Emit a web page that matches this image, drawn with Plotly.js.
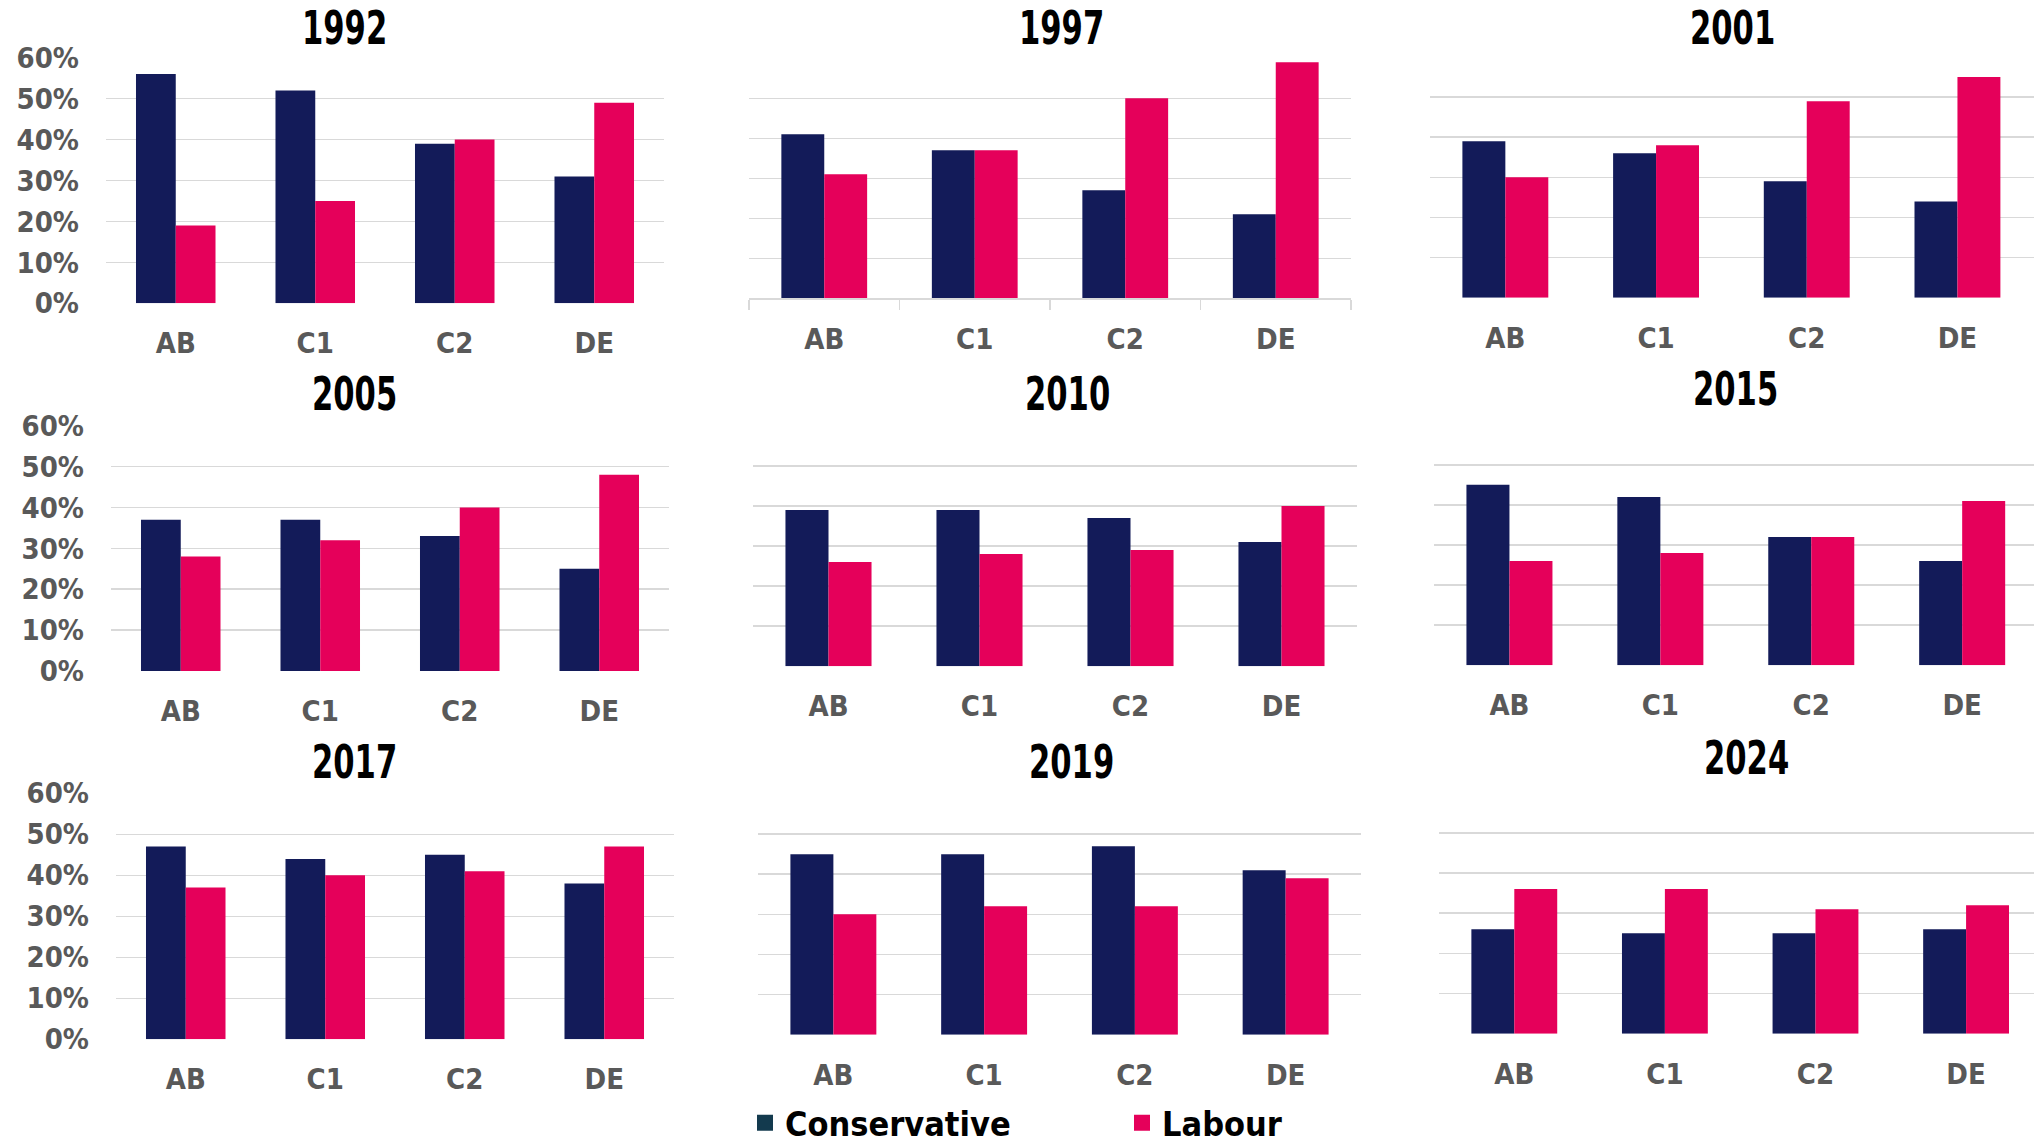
<!DOCTYPE html>
<html>
<head>
<meta charset="utf-8">
<script src="https://cdn.plot.ly/plotly-3.0.1.min.js"></script>
<style>
html, body { margin: 0; padding: 0; background: #ffffff; overflow: hidden; }
#chart { width: 2034px; height: 1143px; }
#chart .annotation-text {
  transform-box: fill-box;
  transform-origin: center;
  transform: scaleX(0.74);
}
</style>
</head>
<body>
<div id="chart"></div>
<script>
// ---- Data ----
const categories = ['AB', 'C1', 'C2', 'DE'];
const years = ['1992', '1997', '2001', '2005', '2010', '2015', '2017', '2019', '2024'];
const seriesNames = ['Conservative', 'Labour'];

const con1992 = [56, 52, 39, 31];
const lab1992 = [19, 25, 40, 49];
const con1997 = [41, 37, 27, 21];
const lab1997 = [31, 37, 50, 59];
const con2001 = [39, 36, 29, 24];
const lab2001 = [30, 38, 49, 55];
const con2005 = [37, 37, 33, 25];
const lab2005 = [28, 32, 40, 48];
const con2010 = [39, 39, 37, 31];
const lab2010 = [26, 28, 29, 40];
const con2015 = [45, 42, 32, 26];
const lab2015 = [26, 28, 32, 41];
const con2017 = [47, 44, 45, 38];
const lab2017 = [37, 40, 41, 47];
const con2019 = [45, 45, 47, 41];
const lab2019 = [30, 32, 32, 39];
const con2024 = [26, 25, 25, 26];
const lab2024 = [36, 36, 31, 32];

const conservativeByYear = [con1992, con1997, con2001, con2005, con2010, con2015, con2017, con2019, con2024];
const labourByYear = [lab1992, lab1997, lab2001, lab2005, lab2010, lab2015, lab2017, lab2019, lab2024];

// ---- Layout geometry (pixels) ----
const W = 2034, H = 1143;
const FONT = '"DejaVu Sans Condensed", "Liberation Sans Narrow", sans-serif';
const conColor = '#131b59';
const labColor = '#e5005a';
const conLegendColor = '#133a4e';
const gridColor = '#d9d9d9';
const tickColor = '#595959';

// plot area [left, right], [y of 60%, y of 0%], category range end, title centre
const panels = [
  {x: [106, 664],  y: [57.7, 303.3],  r: 3.5,   tx: 344,  ty: 28},
  {x: [749, 1351], y: [58.3, 298.3],  r: 3.5,   tx: 1061, ty: 28, axisLine: true},
  {x: [1430, 2034], y: [57, 297.7],   r: 3.508, tx: 1732, ty: 28},
  {x: [111, 669],  y: [425.7, 671],   r: 3.5,   tx: 354,  ty: 394},
  {x: [753, 1357], y: [425.7, 666.3], r: 3.5,   tx: 1067, ty: 394},
  {x: [1434, 2034], y: [424.7, 665.3], r: 3.476, tx: 1735, ty: 389},
  {x: [116, 674],  y: [793.3, 1039.3], r: 3.5,  tx: 354,  ty: 762},
  {x: [758, 1361], y: [794, 1034.7],  r: 3.5,   tx: 1071, ty: 762},
  {x: [1439, 2034], y: [792.7, 1033.7], r: 3.451, tx: 1746, ty: 758}
];

const traces = [];
const layout = {
  width: W, height: H,
  margin: {l: 0, r: 0, t: 0, b: 0, autoexpand: false},
  paper_bgcolor: '#ffffff',
  plot_bgcolor: 'rgba(0,0,0,0)',
  barmode: 'group',
  bargap: 0.43,
  bargroupgap: 0,
  font: {family: FONT, color: '#000000'},
  showlegend: true,
  legend: {
    orientation: 'h',
    x: 745 / W, xanchor: 'left',
    y: -0.008, yanchor: 'bottom',
    font: {family: FONT, size: 34, color: '#000000', weight: 'bold'},
    entrywidth: 332,
    entrywidthmode: 'pixels',
    bgcolor: 'rgba(0,0,0,0)',
    borderwidth: 0
  },
  annotations: []
};

years.forEach((yr, i) => {
  const p = panels[i];
  const n = i === 0 ? '' : String(i + 1);
  const xa = 'x' + n, ya = 'y' + n;
  traces.push({
    type: 'bar', name: seriesNames[0], x: categories, y: conservativeByYear[i],
    xaxis: xa, yaxis: ya, marker: {color: conColor, line: {width: 0}},
    showlegend: false, hoverinfo: 'x+y'
  });
  traces.push({
    type: 'bar', name: seriesNames[1], x: categories, y: labourByYear[i],
    xaxis: xa, yaxis: ya, marker: {color: labColor, line: {width: 0}},
    showlegend: false, hoverinfo: 'x+y'
  });
  const firstCol = (i % 3) === 0;
  layout['xaxis' + n] = {
    domain: [p.x[0] / W, p.x[1] / W],
    anchor: ya,
    type: 'category',
    range: [-0.5, p.r],
    showgrid: false,
    zeroline: false,
    showline: !!p.axisLine,
    linecolor: gridColor,
    linewidth: 1.5,
    ticks: p.axisLine ? 'outside' : '',
    tickson: 'boundaries',
    ticklen: 10,
    tickcolor: gridColor,
    tickwidth: 1.5,
    ticklabelstandoff: p.axisLine ? 14 : 20,
    tickfont: {family: FONT, size: 29, color: tickColor, weight: 'bold'},
    fixedrange: true
  };
  layout['yaxis' + n] = {
    domain: [1 - p.y[1] / H, 1 - p.y[0] / H],
    anchor: xa,
    range: [0, 60],
    dtick: 10,
    tick0: 0,
    ticksuffix: '%',
    showticklabels: firstCol,
    showgrid: true,
    gridcolor: gridColor,
    gridwidth: 1.5,
    zeroline: false,
    showline: false,
    ticks: '',
    ticklabelstandoff: 26,
    tickfont: {family: FONT, size: 29, color: tickColor, weight: 'bold'},
    fixedrange: true
  };
  layout.annotations.push({
    text: yr,
    xref: 'paper', yref: 'paper',
    x: p.tx / W, y: 1 - p.ty / H,
    xanchor: 'center', yanchor: 'middle',
    showarrow: false,
    font: {family: FONT, size: 46, color: '#000000', weight: 'bold'}
  });
});

// legend-only entries (swatches as in the reference key)
traces.push({
  type: 'scatter', mode: 'markers', name: seriesNames[0], x: [null], y: [null],
  xaxis: 'x', yaxis: 'y', showlegend: true, hoverinfo: 'skip',
  marker: {symbol: 'square', size: 22, color: conLegendColor}
});
traces.push({
  type: 'scatter', mode: 'markers', name: seriesNames[1], x: [null], y: [null],
  xaxis: 'x', yaxis: 'y', showlegend: true, hoverinfo: 'skip',
  marker: {symbol: 'square', size: 22, color: labColor}
});

Plotly.newPlot('chart', traces, layout, {displayModeBar: false, staticPlot: true});
</script>
</body>
</html>
